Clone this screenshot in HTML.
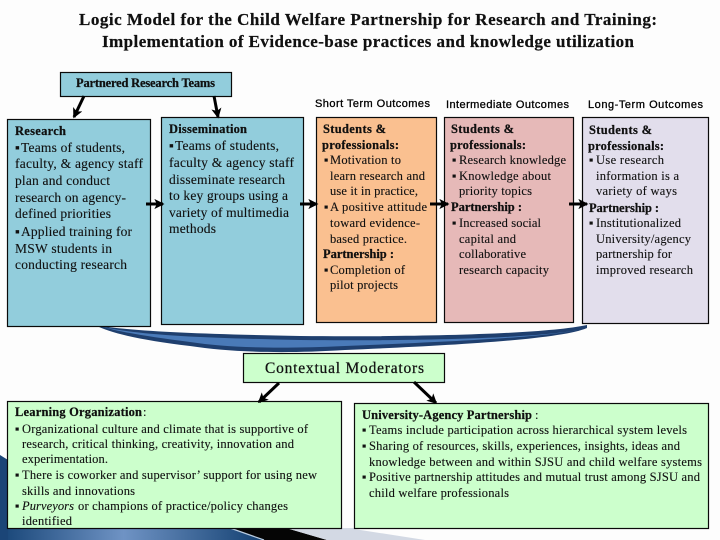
<!DOCTYPE html>
<html><head><meta charset="utf-8"><style>
html,body{margin:0;padding:0;background:#fff}
svg{display:block}
text{font-family:"Liberation Serif",serif;font-size:12.5px;fill:#111;white-space:pre;stroke:#111;stroke-width:.12}
.b{font-weight:bold;stroke:#000;stroke-width:.2}
.s{font-family:"Liberation Sans",sans-serif;font-size:11px;fill:#000;stroke:#000;stroke-width:.3}
.box{stroke:#0a0a0a;stroke-width:1.2}
</style></head><body>
<svg width="720" height="540" viewBox="0 0 720 540" xmlns="http://www.w3.org/2000/svg">
<defs>
<linearGradient id="g" x1="0" x2="1" y1="0" y2="0"><stop offset="0" stop-color="#1d4a7c"/><stop offset=".45" stop-color="#6f93c4"/><stop offset="1" stop-color="#123f70"/></linearGradient>
<marker id="a" viewBox="0 0 10 10" refX="8.5" refY="5" markerWidth="3.4" markerHeight="3.4" orient="auto"><path d="M0 0L10 5L0 10L2.5 5Z" fill="#000"/></marker>
</defs>
<rect width="720" height="540" fill="#fdfdfd"/>
<!-- corner background -->
<path d="M0 455L8 460L8 540L0 540Z" fill="#1b4577"/>
<path d="M8 528L232 528L265 540L8 540Z" fill="url(#g)"/>
<path d="M230 528L286 528L327 540L264 540Z" fill="#050505"/>
<path d="M230 528L264 540" stroke="#b8cbe0" stroke-width="1.2" fill="none"/>
<path d="M286 528L354 528L354 529L425 540L327 540Z" fill="#d3d9e4"/>
<!-- swoosh -->
<path d="M95 325C130 331 190 334 300 336C400 337 540 335 587 325L587 328C560 340 440 346 345 350C280 354 230 352 190 346C140 340 110 333 95 325Z" fill="#1f3f6e"/>
<path d="M103 327C140 335 200 338 300 340C400 341 530 339 578 330C540 338 440 342 345 346C280 349 230 348 190 342C150 337 120 332 103 327Z" fill="#4a7ab8"/>
<!-- boxes -->
<rect class="box" x="60.5" y="72.5" width="171" height="24" fill="#92cddc"/>
<rect class="box" x="7.5" y="119.5" width="143" height="207" fill="#92cddc"/>
<rect class="box" x="161.5" y="117.5" width="142" height="207" fill="#92cddc"/>
<rect class="box" x="316.5" y="117.5" width="120" height="205" fill="#fac090"/>
<rect class="box" x="444.5" y="117.5" width="129" height="205" fill="#e6b9b8"/>
<rect class="box" x="582.5" y="117.5" width="126" height="206" fill="#e2deec"/>
<rect class="box" x="243.5" y="353.5" width="201" height="29" fill="#ccffcc"/>
<rect class="box" x="7.5" y="401.5" width="334" height="127" fill="#ccffcc"/>
<rect class="box" x="354.5" y="403.5" width="354" height="125" fill="#ccffcc"/>
<!-- arrows -->
<g stroke="#000" stroke-width="3" fill="none">
<path d="M84 96L74 117" marker-end="url(#a)"/>
<path d="M214 96L218 117" marker-end="url(#a)"/>
<path d="M146 204L163 204" marker-end="url(#a)"/>
<path d="M300 204L317 204" marker-end="url(#a)"/>
<path d="M430 204L448 204" marker-end="url(#a)"/>
<path d="M569 204L587 204" marker-end="url(#a)"/>
<path d="M279 383L259 402" marker-end="url(#a)"/>
<path d="M414 382L436 403" marker-end="url(#a)"/>
</g>
<!-- title -->
<text class="b" x="79" y="25" style="font-size:17px" textLength="578">Logic Model for the Child Welfare Partnership for Research and Training:</text>
<text class="b" x="102" y="47" style="font-size:17px" textLength="532">Implementation of Evidence-base practices and knowledge utilization</text>
<text class="b" x="76" y="87" style="font-size:12.5px" textLength="139">Partnered Research Teams</text>
<text class="s" x="315" y="107" textLength="115">Short Term Outcomes</text>
<text class="s" x="446" y="108" textLength="123">Intermediate Outcomes</text>
<text class="s" x="588" y="108" textLength="115">Long-Term Outcomes</text>
<!-- research -->
<text class="b" x="15" y="135" style="font-size:12.5px" textLength="51">Research</text>
<text x="15" y="152" style="font-size:13.5px">▪</text><text x="21" y="152" style="font-size:13.5px" textLength="104">Teams of students,</text>
<text x="15" y="168" style="font-size:13.5px" textLength="128">faculty, &amp; agency staff</text>
<text x="15" y="185" style="font-size:13.5px" textLength="95">plan and conduct</text>
<text x="15" y="202" style="font-size:13.5px" textLength="111">research on agency-</text>
<text x="15" y="218" style="font-size:13.5px" textLength="96">defined priorities</text>
<text x="15" y="236" style="font-size:13.5px">▪</text><text x="21" y="236" style="font-size:13.5px" textLength="111">Applied training for</text>
<text x="15" y="253" style="font-size:13.5px" textLength="97">MSW students in</text>
<text x="15" y="269" style="font-size:13.5px" textLength="112">conducting research</text>
<!-- dissemination -->
<text class="b" x="169" y="133" style="font-size:12.5px" textLength="78">Dissemination</text>
<text x="169" y="150" style="font-size:13.5px">▪</text><text x="175" y="150" style="font-size:13.5px" textLength="104">Teams of students,</text>
<text x="169" y="167" style="font-size:13.5px" textLength="125">faculty &amp; agency staff</text>
<text x="169" y="184" style="font-size:13.5px" textLength="116">disseminate research</text>
<text x="169" y="200" style="font-size:13.5px" textLength="119">to key groups using a</text>
<text x="169" y="217" style="font-size:13.5px" textLength="120">variety of multimedia</text>
<text x="169" y="233" style="font-size:13.5px" textLength="47">methods</text>
<!-- short -->
<text class="b" x="323" y="133" textLength="63">Students &amp;</text>
<text class="b" x="322" y="149" textLength="77">professionals:</text>
<text x="324" y="164">▪</text><text x="330" y="164" textLength="71">Motivation to</text>
<text x="330" y="180" textLength="95">learn research and</text>
<text x="330" y="195" textLength="88">use it in practice,</text>
<text x="324" y="211">▪</text><text x="330" y="211" textLength="97">A positive attitude</text>
<text x="330" y="227" textLength="90">toward evidence-</text>
<text x="330" y="243" textLength="77">based practice.</text>
<text class="b" x="323" y="258" textLength="71">Partnership :</text>
<text x="324" y="274">▪</text><text x="330" y="274" textLength="75">Completion of</text>
<text x="330" y="289" textLength="68">pilot projects</text>
<!-- intermediate -->
<text class="b" x="451" y="133" textLength="63">Students &amp;</text>
<text class="b" x="450" y="149" textLength="76">professionals:</text>
<text x="452" y="164">▪</text><text x="459" y="164" textLength="107">Research knowledge</text>
<text x="452" y="180">▪</text><text x="459" y="180" textLength="92">Knowledge about</text>
<text x="459" y="195" textLength="73">priority topics</text>
<text class="b" x="451" y="211" textLength="71">Partnership :</text>
<text x="452" y="227">▪</text><text x="459" y="227" textLength="82">Increased social</text>
<text x="459" y="243" textLength="57">capital and</text>
<text x="459" y="258" textLength="67">collaborative</text>
<text x="459" y="274" textLength="90">research capacity</text>
<!-- long -->
<text class="b" x="589" y="134" textLength="63">Students &amp;</text>
<text class="b" x="588" y="150" textLength="76">professionals:</text>
<text x="589" y="164">▪</text><text x="596" y="164" textLength="68">Use research</text>
<text x="596" y="180" textLength="83">information is a</text>
<text x="596" y="195" textLength="81">variety of ways</text>
<text class="b" x="589" y="212" textLength="70">Partnership :</text>
<text x="589" y="227">▪</text><text x="596" y="227" textLength="85">Institutionalized</text>
<text x="596" y="243" textLength="95">University/agency</text>
<text x="596" y="258" textLength="76">partnership for</text>
<text x="596" y="274" textLength="97">improved research</text>
<!-- contextual -->
<text x="265" y="373" style="font-size:15.5px;stroke:#111;stroke-width:.25" textLength="159">Contextual Moderators</text>
<!-- learning -->
<text class="b" x="15" y="416" textLength="127">Learning Organization</text><text x="143" y="416">:</text>
<text x="15" y="433">▪</text><text x="22" y="433" textLength="286">Organizational culture and climate that is supportive of</text>
<text x="22" y="448" textLength="272">research, critical thinking, creativity, innovation and</text>
<text x="22" y="463" textLength="86">experimentation.</text>
<text x="15" y="479">▪</text><text x="22" y="479" textLength="295">There is coworker and supervisor’ support for using new</text>
<text x="22" y="495" textLength="113">skills and innovations</text>
<text x="15" y="510">▪</text><text x="22" y="510" font-style="italic" textLength="52">Purveyors</text><text x="78" y="510" textLength="210">or champions of practice/policy changes</text>
<text x="22" y="525" textLength="50">identified</text>
<!-- university -->
<text class="b" x="362" y="419" textLength="170">University-Agency Partnership</text><text x="535" y="419">:</text>
<text x="362" y="434">▪</text><text x="369" y="434" textLength="318">Teams include participation across hierarchical system levels</text>
<text x="362" y="450">▪</text><text x="369" y="450" textLength="311">Sharing of resources, skills, experiences, insights, ideas and</text>
<text x="369" y="466" textLength="333">knowledge between and within SJSU and child welfare systems</text>
<text x="362" y="481">▪</text><text x="369" y="481" textLength="331">Positive partnership attitudes and mutual trust among SJSU and</text>
<text x="369" y="497" textLength="140">child welfare professionals</text>
</svg>
</body></html>
